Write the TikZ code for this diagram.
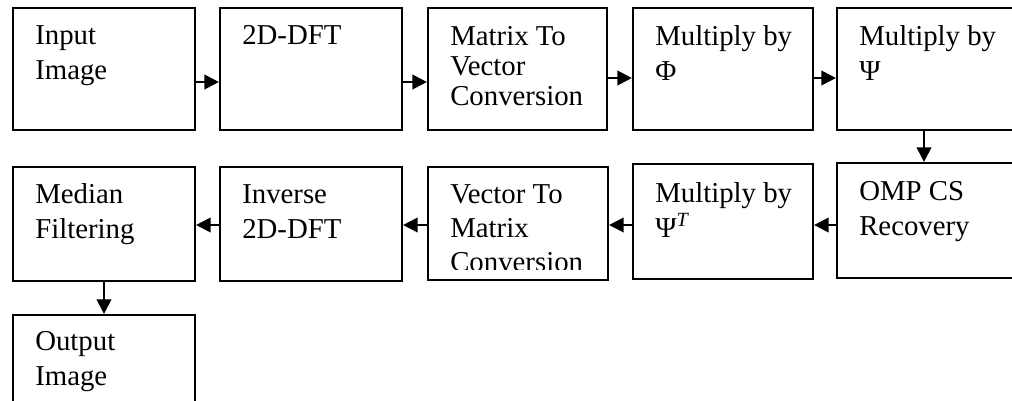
\documentclass[tikz,border=0pt]{standalone}
\usepackage{fontspec}
\setmainfont{Liberation Serif}
\usetikzlibrary{arrows.meta}
\begin{document}
\begin{tikzpicture}[x=0.75pt,y=-0.75pt,
  box/.style={draw,line width=1.6pt,inner sep=0pt,fill=none},
  lbl/.style={anchor=base west,align=left,inner sep=0pt,
    font=\fontsize{21.6}{26.25}\selectfont},
  arr/.style={line width=1.6pt,-{Triangle[length=11pt,width=11pt]}}]
\useasboundingbox (0,0) rectangle (1012,400);
\clip (0,0) rectangle (1012,400);
% row 1 boxes
\node[box,minimum width={182*0.75pt},minimum height={122*0.75pt}] (b1) at (104,69) {};
\node[box,minimum width={182*0.75pt},minimum height={122*0.75pt}] (b2) at (311,69) {};
\node[box,minimum width={179*0.75pt},minimum height={122*0.75pt}] (b3) at (517.5,69) {};
\node[box,minimum width={180*0.75pt},minimum height={122*0.75pt}] (b4) at (723,69) {};
\node[box,minimum width={183*0.75pt},minimum height={122*0.75pt}] (b5) at (928.5,69) {};
% row 2 boxes
\node[box,minimum width={183*0.75pt},minimum height={115*0.75pt}] (r5) at (928.5,220.5) {};
\node[box,minimum width={180*0.75pt},minimum height={115*0.75pt}] (r4) at (723,221.5) {};
\node[box,minimum width={180*0.75pt},minimum height={113*0.75pt}] (r3) at (518,223.5) {};
\node[box,minimum width={182*0.75pt},minimum height={114*0.75pt}] (r2) at (311,224) {};
\node[box,minimum width={182*0.75pt},minimum height={114*0.75pt}] (r1) at (104,224) {};
% output
\node[box,minimum width={182*0.75pt},minimum height={105*0.75pt}] (o1) at (104,367.5) {};
% labels (anchored at the baseline of the last line)
\node[lbl] (t1) at (35,79) {Input\\Image};
\node[lbl] (t2) at (242,44) {2D-DFT};
\node[lbl,font=\fontsize{21.6}{22.5}\selectfont] (t3) at (450,105) {Matrix To\\Vector\\Conversion};
\node[lbl] (t4) at (655,80) {Multiply by\\Φ};
\node[lbl] (t5) at (859,80) {Multiply by\\Ψ};
\node[lbl] (u5) at (859,235) {OMP CS\\Recovery};
\node[lbl] (u4) at (655,237) {Multiply by\\Ψ\textsuperscript{\itshape T}};
\begin{scope}
\clip (428,167) rectangle (608,269);
\node[lbl,font=\fontsize{21.6}{25.5}\selectfont] (u3) at (450,271) {Vector To\\Matrix\\Conversion};
\end{scope}
\node[lbl] (u2) at (242,238) {Inverse\\2D-DFT};
\node[lbl] (u1) at (35,238) {Median\\Filtering};
\node[lbl] (v1) at (35,385) {Output\\Image};
% arrow levels
\coordinate (ya) at (0,82);
\coordinate (yb) at (0,78);
\coordinate (yc) at (0,225);
\coordinate (xa) at (924,0);
\draw[arr] (b1.east |- ya) -- (b2.west |- ya);
\draw[arr] (b2.east |- ya) -- (b3.west |- ya);
\draw[arr] (b3.east |- yb) -- (b4.west |- yb);
\draw[arr] (b4.east |- yb) -- (b5.west |- yb);
\draw[arr] (b5.south -| xa) -- (r5.north -| xa);
\draw[arr] (r5.west |- yc) -- (r4.east |- yc);
\draw[arr] (r4.west |- yc) -- (r3.east |- yc);
\draw[arr] (r3.west |- yc) -- (r2.east |- yc);
\draw[arr] (r2.west |- yc) -- (r1.east |- yc);
\draw[arr] (r1.south) -- (o1.north);
\end{tikzpicture}
\end{document}
